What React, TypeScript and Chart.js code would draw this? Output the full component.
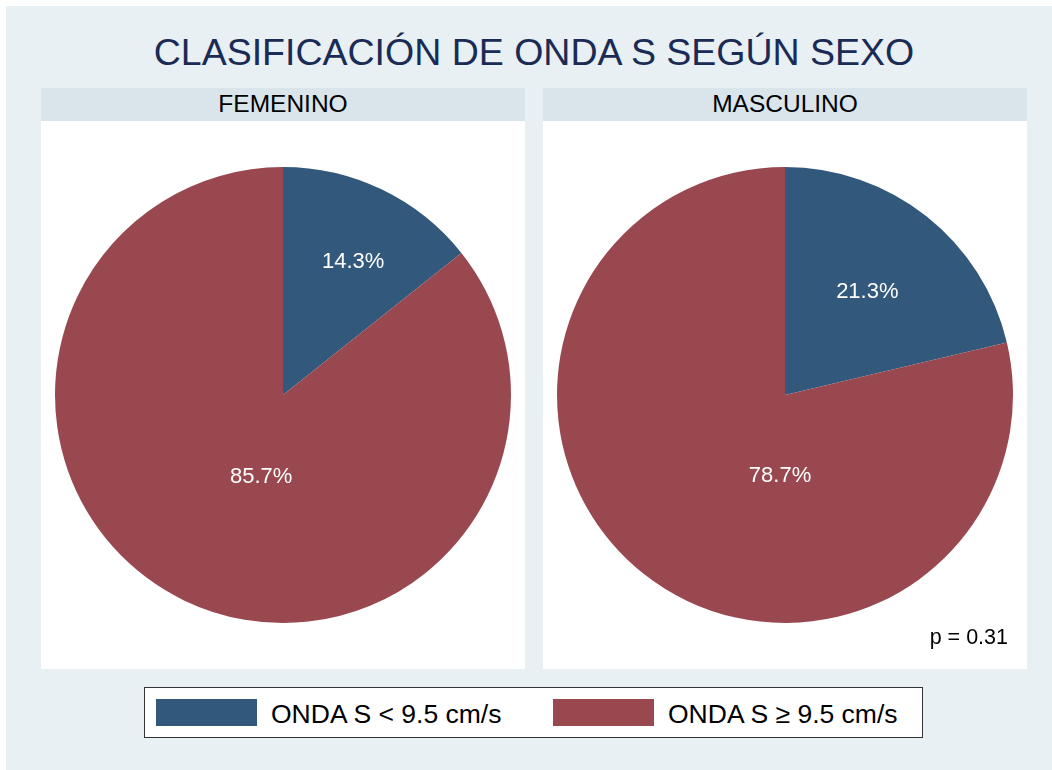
import React, { useEffect, useRef } from "react";
import { Chart, registerables } from "chart.js";

Chart.register(...registerables);

const TITLE = "CLASIFICACIÓN DE ONDA S SEGÚN SEXO";
const categories = ["ONDA S < 9.5 cm/s", "ONDA S ≥ 9.5 cm/s"];
const panels = ["FEMENINO", "MASCULINO"];
const femenino = [14.3, 85.7];
const masculino = [21.3, 78.7];
const pValueNote = "p = 0.31";

const COLORS = ["#32587c", "#9a4850"];
const FONT = '"Liberation Sans", Arial, Helvetica, sans-serif';

// label placement style (angle in degrees clockwise from 12 o'clock, radius fraction)
const LABEL_POS = [
  [{ a: 27.8, r: 0.66 }, { a: 195, r: 0.37 }],
  [{ a: 38.5, r: 0.58 }, { a: 183.5, r: 0.355 }],
];

function Pie({ values, idx }: { values: number[]; idx: number }) {
  const ref = useRef<HTMLCanvasElement | null>(null);
  useEffect(() => {
    if (!ref.current) return;
    const labelPlugin = {
      id: "pielabels",
      afterDatasetsDraw(chart: any) {
        const meta = chart.getDatasetMeta(0);
        const ctx = chart.ctx;
        ctx.save();
        ctx.fillStyle = "#ffffff";
        ctx.font = `22px ${FONT}`;
        ctx.textAlign = "center";
        ctx.textBaseline = "middle";
        meta.data.forEach((arc: any, i: number) => {
          const p = LABEL_POS[idx][i];
          const ang = (p.a * Math.PI) / 180;
          const rr = arc.outerRadius * p.r;
          const x = arc.x + Math.sin(ang) * rr;
          const y = arc.y - Math.cos(ang) * rr;
          ctx.fillText(values[i].toFixed(1) + "%", x, y);
        });
        ctx.restore();
      },
    };
    const chart = new Chart(ref.current, {
      type: "pie",
      data: {
        labels: categories,
        datasets: [
          {
            data: values,
            backgroundColor: COLORS,
            borderColor: COLORS,
            borderWidth: 0,
          },
        ],
      },
      options: {
        animation: false,
        responsive: false,
        maintainAspectRatio: false,
        layout: { padding: { top: 46, bottom: 46, left: 0, right: 0 } },
        plugins: { legend: { display: false }, tooltip: { enabled: false } },
      },
      plugins: [labelPlugin],
    });
    return () => chart.destroy();
  }, [values, idx]);
  return <canvas ref={ref} width={484} height={548} style={{ display: "block" }} />;
}

export default function App() {
  const panelLeft = [41, 543];
  const data = [femenino, masculino];
  return (
    <div
      style={{
        position: "fixed",
        left: 0,
        top: 0,
        width: 1052,
        height: 770,
        background: "#ffffff",
        fontFamily: FONT,
      }}
    >
      <div
        style={{
          position: "absolute",
          left: 6,
          top: 6,
          width: 1046,
          height: 764,
          background: "#e8f0f3",
        }}
      />
      <div
        style={{
          position: "absolute",
          left: 41,
          width: 986,
          top: 29,
          textAlign: "center",
          fontSize: 37.5,
          lineHeight: "46px",
          color: "#1a2b55",
          whiteSpace: "nowrap",
        }}
      >
        {TITLE}
      </div>
      {panels.map((name, i) => (
        <React.Fragment key={name}>
          <div
            style={{
              position: "absolute",
              left: panelLeft[i],
              top: 88,
              width: 484,
              height: 33,
              background: "#d9e5eb",
              textAlign: "center",
              fontSize: 24.5,
              lineHeight: "32px",
              color: "#000",
            }}
          >
            {name}
          </div>
          <div
            style={{
              position: "absolute",
              left: panelLeft[i],
              top: 121,
              width: 484,
              height: 548,
              background: "#ffffff",
            }}
          >
            <Pie values={data[i]} idx={i} />
          </div>
        </React.Fragment>
      ))}
      <div
        style={{
          position: "absolute",
          left: 860,
          width: 148,
          top: 624,
          textAlign: "right",
          fontSize: 21.5,
          lineHeight: "26px",
          color: "#000",
        }}
      >
        {pValueNote}
      </div>
      <div
        style={{
          position: "absolute",
          left: 144,
          top: 687,
          width: 777,
          height: 49,
          background: "#ffffff",
          border: "1px solid #333",
        }}
      >
        {categories.map((c, i) => (
          <div
            key={c}
            style={{
              position: "absolute",
              left: i === 0 ? 11 : 408,
              top: 11,
              height: 27,
              display: "flex",
              alignItems: "center",
              whiteSpace: "nowrap",
            }}
          >
            <div style={{ width: 101, height: 27, background: COLORS[i] }} />
            <div style={{ marginLeft: 14, fontSize: 26.5, lineHeight: "30px", color: "#000", position: "relative", top: 1 }}>{c}</div>
          </div>
        ))}
      </div>
    </div>
  );
}
